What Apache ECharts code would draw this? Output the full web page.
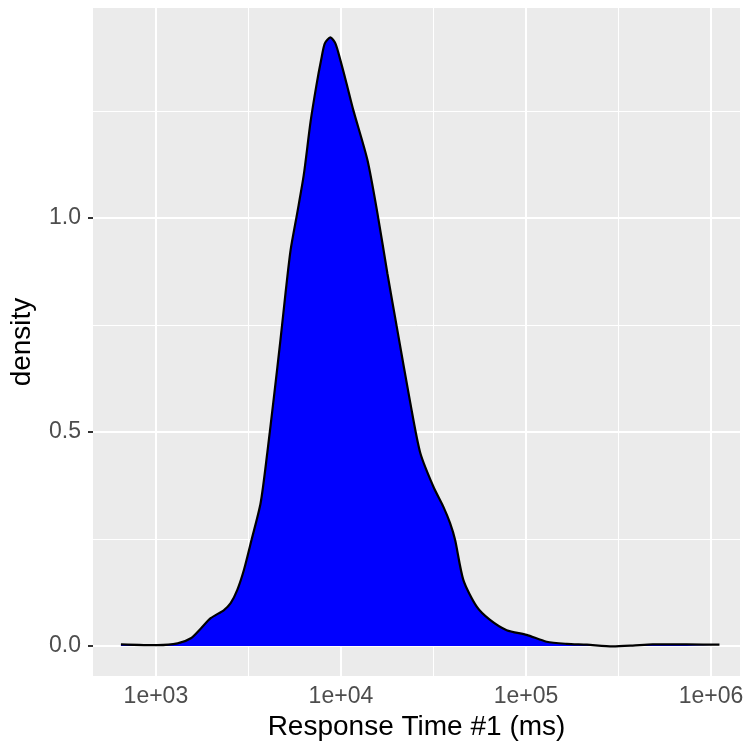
<!DOCTYPE html>
<html>
<head>
<meta charset="utf-8">
<script src="https://cdn.jsdelivr.net/npm/echarts@6/dist/echarts.min.js"></script>
<style>
  html, body { margin: 0; padding: 0; background: #fff; }
  #chart { width: 749px; height: 753px; }
</style>
</head>
<body>
<div id="chart"></div>
<script>
// x positions are log10(response time in ms)
var logTime = [2.811, 3.009, 3.117, 3.189, 3.243, 3.296, 3.368, 3.404, 3.440, 3.476,
  3.517, 3.566, 3.602, 3.638, 3.674, 3.701, 3.728, 3.764, 3.799, 3.836,
  3.868, 3.893, 3.913, 3.943, 3.970, 3.997, 4.030, 4.067, 4.143, 4.197,
  4.251, 4.305, 4.375, 4.429, 4.500, 4.554, 4.590, 4.617, 4.662, 4.734,
  4.806, 4.896, 5.004, 5.112, 5.220, 5.329, 5.469, 5.577, 5.685, 5.868, 6.046];
var density = [0.004, 0.002, 0.006, 0.018, 0.041, 0.065, 0.084, 0.100, 0.131, 0.178,
  0.248, 0.334, 0.451, 0.582, 0.718, 0.826, 0.925, 1.012, 1.100, 1.225,
  1.311, 1.369, 1.408, 1.422, 1.408, 1.369, 1.315, 1.252, 1.136, 1.012,
  0.871, 0.738, 0.568, 0.451, 0.372, 0.325, 0.287, 0.248, 0.154, 0.092,
  0.061, 0.037, 0.026, 0.010, 0.005, 0.003, -0.001, 0.001, 0.004, 0.004, 0.003];

var xTicks = [3, 4, 5, 6];
var xMinor = [3.5, 4.5, 5.5];
var yTicks = [0, 0.5, 1.0];
var yMinor = [0.25, 0.75, 1.25];

var points = logTime.map(function (x, i) { return [x, density[i]]; });

// ggplot-like grid drawn as mark lines under the area
var gridLines = [];
xTicks.forEach(function (v) { gridLines.push({ xAxis: v, lineStyle: { width: 2 } }); });
xMinor.forEach(function (v) { gridLines.push({ xAxis: v, lineStyle: { width: 1 } }); });
yTicks.forEach(function (v) { gridLines.push({ yAxis: v, lineStyle: { width: 2 } }); });
yMinor.forEach(function (v) { gridLines.push({ yAxis: v, lineStyle: { width: 1 } }); });

var mychart = echarts.init(document.getElementById("chart"));
var option = {
  animation: false,
  textStyle: { fontFamily: "Liberation Sans" },
  grid: {
    left: 92, right: 9, top: 8, bottom: 77,
    show: true,
    backgroundColor: "#EBEBEB",
    borderWidth: 0
  },
  xAxis: {
    type: "value",
    min: 2.66,
    max: 6.157,
    axisLine: { show: false },
    splitLine: { show: false },
    axisTick: {
      show: true, length: 5, customValues: xTicks,
      lineStyle: { color: "#333333", width: 2 }
    },
    axisLabel: {
      customValues: xTicks,
      color: "#4D4D4D",
      fontSize: 23,
      margin: 9,
      formatter: function (v) { return "1e+0" + Math.round(v); }
    },
    name: "Response Time #1 (ms)",
    nameLocation: "middle",
    nameGap: 32,
    nameTextStyle: { color: "#000", fontSize: 28 }
  },
  yAxis: {
    type: "value",
    min: -0.0701,
    max: 1.4907,
    axisLine: { show: false },
    splitLine: { show: false },
    axisTick: {
      show: true, length: 5, customValues: yTicks,
      lineStyle: { color: "#333333", width: 2 }
    },
    axisLabel: {
      customValues: yTicks,
      color: "#4D4D4D",
      fontSize: 23,
      margin: 12,
      formatter: function (v) { return v.toFixed(1); }
    },
    name: "density",
    nameLocation: "middle",
    nameGap: 57,
    nameTextStyle: { color: "#000", fontSize: 28 }
  },
  series: [
    {
      type: "line",
      z: 1,
      data: [[3, 0]],
      showSymbol: false,
      silent: true,
      lineStyle: { opacity: 0 },
      markLine: {
        z: 1,
        silent: true,
        symbol: ["none", "none"],
        label: { show: false },
        lineStyle: { color: "#FFFFFF", type: "solid" },
        data: gridLines
      }
    },
    {
      type: "line",
      z: 3,
      data: points,
      smooth: 0.25,
      showSymbol: false,
      lineStyle: { color: "#000000", width: 2.2 },
      areaStyle: { color: "#0000FF", opacity: 1 }
    }
  ]
};
mychart.setOption(option);
</script>
</body>
</html>
